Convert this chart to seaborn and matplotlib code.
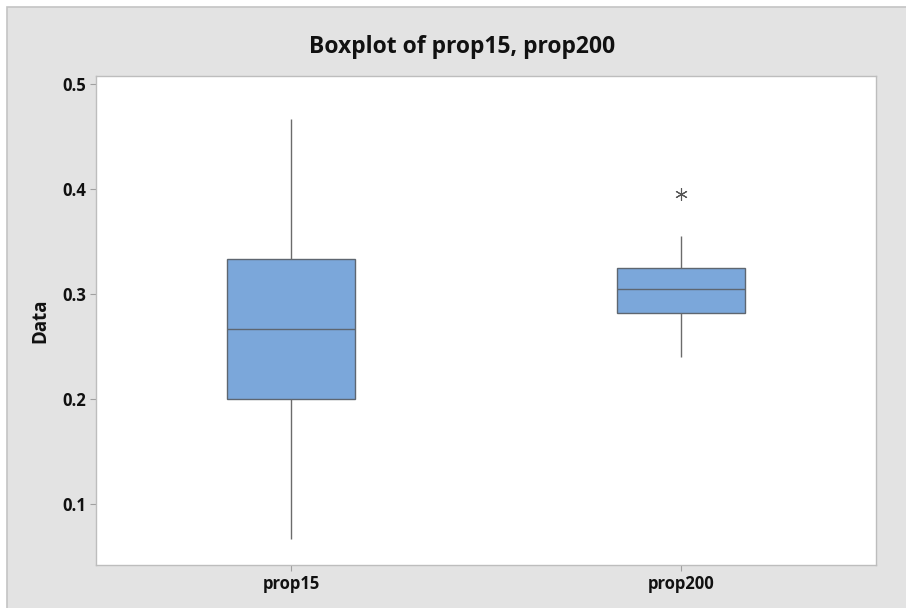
#!/usr/bin/env python3
"""Boxplot of prop15, prop200 (Minitab style) redrawn with seaborn."""
import matplotlib
matplotlib.use('Agg')
import matplotlib.pyplot as plt
import pandas as pd
import seaborn as sns
from matplotlib.patches import Rectangle

# Values chosen so the quartiles, whiskers and outlier match the picture
prop15 = [0.0667, 0.2000, 0.2667, 0.3333, 0.4667]
prop200 = [0.240, 0.260, 0.2825, 0.295, 0.305, 0.315, 0.325, 0.355, 0.395]
categories = ['prop15', 'prop200']
y_ticks = [0.1, 0.2, 0.3, 0.4, 0.5]

df = pd.DataFrame({
    'Variable': [categories[0]] * len(prop15) + [categories[1]] * len(prop200),
    'Data': prop15 + prop200,
})

sns.set_style('white')
plt.rcParams['font.family'] = ['Open Sans', 'DejaVu Sans']

fig = plt.figure(figsize=(9.06, 6.08), dpi=100, facecolor='white')
# gray panel behind the plot, like Minitab's graph region
fig.patches.append(Rectangle((7 / 906, -0.1), 1.2, 1.1 - 7 / 608, transform=fig.transFigure,
                             facecolor='#e3e3e3', edgecolor='#c4c4c4', linewidth=1.2,
                             zorder=-10))

ax = fig.add_axes([96 / 906, 1 - 565 / 608, 780 / 906, 489 / 608])
ax.set_facecolor('white')

line_col = '#6b6b6b'
sns.boxplot(
    data=df, x='Variable', y='Data', order=categories, ax=ax,
    color='#7ba7da', width=0.33, showcaps=False, linewidth=1.0,
    boxprops=dict(facecolor='#7ba7da', edgecolor='#5e6670'),
    medianprops=dict(color='#5e6670', linewidth=1.0),
    whiskerprops=dict(color=line_col, linewidth=1.0),
    flierprops=dict(marker=(6, 2, 0), markersize=9, markeredgecolor='#555555',
                    markeredgewidth=0.8, markerfacecolor='none'),
)

ax.set_xlim(-0.5, 1.5)
ax.set_ylim(0.0424, 0.5076)
ax.set_yticks(y_ticks)
ax.set_yticklabels([f'{v:.1f}' for v in y_ticks])

for s in ax.spines.values():
    s.set_color('#bdbdbd')
    s.set_linewidth(1.0)

ax.tick_params(axis='both', which='both', length=4, width=0.8, color='#a0a0a0',
               labelsize=12, direction='out', left=True, bottom=True, pad=3)
for lbl in ax.get_xticklabels() + ax.get_yticklabels():
    lbl.set_fontweight('bold')
    lbl.set_color('#111111')

ax.set_xlabel('')
ax.set_ylabel('Data', fontsize=13.5, fontweight='bold', color='#111111', labelpad=9)

fig.text(462 / 906, 1 - 47 / 608, 'Boxplot of prop15, prop200', ha='center', va='center',
         fontsize=16.5, fontweight='bold', color='#111111')

fig.savefig('out.png', dpi=100, facecolor=fig.get_facecolor())
